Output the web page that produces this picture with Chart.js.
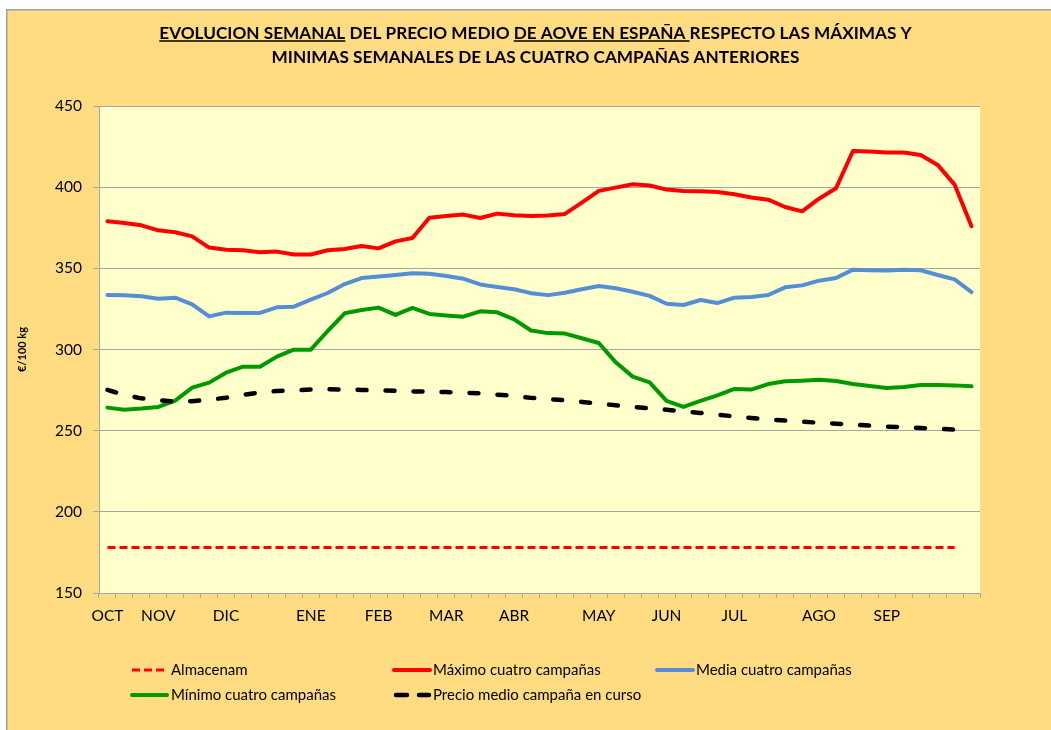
<!DOCTYPE html>
<html>
<head>
<meta charset="utf-8">
<script src="https://cdn.jsdelivr.net/npm/chart.js@4.4.1/dist/chart.umd.min.js"></script>
<style>
  html, body { margin: 0; padding: 0; background: #ffffff; }
  #wrap { width: 1051px; height: 730px; position: relative; }
</style>
</head>
<body>
<div id="wrap"><canvas id="c" width="1051" height="730"></canvas></div>
<script>
// ---------- DATA ----------
const categories = ["OCT","","","NOV","","","","DIC","","","","","ENE","","","","FEB","","","","MAR","","","","ABR","","","","","MAY","","","","JUN","","","","JUL","","","","","AGO","","","","SEP","","","","",""];

const almacenam = [178,178,178,178,178,178,178,178,178,178,178,178,178,178,178,178,178,178,178,178,178,178,178,178,178,178,178,178,178,178,178,178,178,178,178,178,178,178,178,178,178,178,178,178,178,178,178,178,178,178,178,null];

const maximo = [379.0,377.9,376.5,373.4,372.2,369.7,362.8,361.5,361.1,359.9,360.3,358.5,358.5,361.1,361.9,363.8,362.3,366.6,368.7,381.2,382.2,383.1,381.0,383.7,382.7,382.3,382.5,383.5,390.5,397.7,399.7,401.8,401.0,398.5,397.7,397.5,397.0,395.6,393.6,392.3,387.8,385.1,392.9,399.3,422.3,421.9,421.3,421.3,419.8,413.7,401.6,375.9];

const media = [333.6,333.4,332.8,331.3,331.9,327.8,320.4,322.7,322.5,322.5,326.0,326.4,330.7,334.8,340.3,344.0,344.9,345.9,346.9,346.7,345.3,343.6,340.1,338.5,337.1,334.7,333.5,335.0,337.1,339.1,337.7,335.6,333.0,328.2,327.4,330.5,328.6,331.9,332.3,333.6,338.3,339.5,342.4,344.0,349.2,348.8,348.6,349.2,348.8,345.9,343.2,335.4];

const minimo = [264.2,262.9,263.6,264.6,268.5,276.5,279.6,285.7,289.4,289.4,295.6,299.9,299.9,311.4,322.3,324.3,325.8,321.3,325.6,321.9,321.0,320.2,323.5,322.9,318.6,311.7,310.1,309.8,306.9,304.0,292.1,283.3,279.8,268.3,264.6,268.3,271.8,275.7,275.3,278.7,280.4,280.8,281.4,280.6,278.7,277.5,276.3,276.9,278.1,278.1,277.9,277.3];

const precioMedio = [275.1,272.0,269.9,268.7,267.9,268.1,269.1,270.3,272.0,273.6,274.4,274.8,275.3,275.5,275.3,275.1,274.8,274.6,274.2,274.0,273.8,273.4,273.0,272.2,271.4,270.2,269.5,268.7,267.7,266.7,265.6,264.6,263.8,262.9,261.9,260.9,259.9,258.8,257.8,257.0,256.2,255.5,254.9,254.3,253.7,253.1,252.5,252.1,251.6,251.2,250.6,null];

const seriesNames = ["Almacenam","Máximo cuatro campañas","Media cuatro campañas","Mínimo cuatro campañas","Precio medio campaña en curso"];
const titleLine1 = [["EVOLUCION SEMANAL", true], [" DEL PRECIO MEDIO ", false], ["DE AOVE EN ESPAÑA ", true], ["RESPECTO LAS MÁXIMAS Y", false]];
const titleLine2 = "MINIMAS SEMANALES DE LAS CUATRO CAMPAÑAS ANTERIORES";
const yAxisTitle = "€/100 kg";

// ---------- STYLE ----------
const FONT = "Lato, 'Open Sans', sans-serif";
const GOLD = '#FFDC82';
const PLOT_BG = '#FFFFCC';
const GRID = '#A6A6A6';
const RED = '#FF0000', BLUE = '#558ED5', GREEN = '#009A00', BLACK = '#000000';
const DASH_BLACK = [9, 19];
const DASH_RED = [8, 4];

const decorPlugin = {
  id: 'decor',
  beforeDraw(chart) {
    const ctx = chart.ctx, a = chart.chartArea, W = chart.width, H = chart.height;
    ctx.save();
    ctx.fillStyle = '#ffffff';
    ctx.fillRect(0, 0, W, H);
    ctx.fillStyle = GOLD;
    ctx.fillRect(6, 9, W - 6, H - 9);
    ctx.strokeStyle = '#A0A0A0';
    ctx.lineWidth = 1.5;
    ctx.beginPath();
    ctx.moveTo(6.75, H); ctx.lineTo(6.75, 9.75); ctx.lineTo(W, 9.75);
    ctx.stroke();
    ctx.fillStyle = PLOT_BG;
    ctx.fillRect(a.left, a.top, a.right - a.left, a.bottom - a.top);
    ctx.restore();
  },
  afterDraw(chart) {
    const ctx = chart.ctx;
    ctx.save();
    // ----- title -----
    const full1 = titleLine1.map(s => s[0]).join('');
    ctx.font = `bold 100px ${FONT}`;
    const size = 100 * 753 / ctx.measureText(full1).width;
    ctx.font = `bold ${size}px ${FONT}`;
    ctx.fillStyle = '#000';
    ctx.textBaseline = 'alphabetic';
    ctx.textAlign = 'left';
    const cx = 535.5;
    const w1 = ctx.measureText(full1).width;
    let x = cx - w1 / 2;
    const base1 = 38.5, base2 = 62.5;
    ctx.strokeStyle = '#000';
    ctx.lineWidth = 1.3;
    for (const [txt, ul] of titleLine1) {
      const w = ctx.measureText(txt).width;
      ctx.fillText(txt, x, base1);
      if (ul) {
        ctx.beginPath();
        ctx.moveTo(x, base1 + 2.5); ctx.lineTo(x + w, base1 + 2.5);
        ctx.stroke();
      }
      x += w;
    }
    ctx.textAlign = 'center';
    ctx.fillText(titleLine2, cx, base2);

    // ----- legend -----
    const ds = chart.data.datasets;
    const items = [
      { i: 0, x0: 132, x1: 165, tx: 171, y: 670 },
      { i: 1, x0: 394, x1: 430, tx: 433, y: 670 },
      { i: 2, x0: 657, x1: 693, tx: 696, y: 670 },
      { i: 3, x0: 132, x1: 167, tx: 171, y: 695 },
      { i: 4, x0: 396, x1: 429, tx: 433, y: 695 }
    ];
    ctx.font = `15px ${FONT}`;
    ctx.textAlign = 'left';
    ctx.textBaseline = 'middle';
    for (const it of items) {
      const d = ds[it.i];
      ctx.beginPath();
      ctx.strokeStyle = d.borderColor;
      ctx.lineWidth = d.borderWidth;
      ctx.lineCap = d.borderCapStyle || 'butt';
      if (it.i === 4) ctx.setLineDash([11, 12]);
      else ctx.setLineDash(d.borderDash || []);
      ctx.moveTo(it.x0, it.y); ctx.lineTo(it.x1, it.y);
      ctx.stroke();
      ctx.setLineDash([]);
      ctx.fillStyle = '#000';
      ctx.fillText(d.label, it.tx, it.y + 0.5);
    }
    ctx.restore();
  }
};

const chart = new Chart(document.getElementById('c'), {
  type: 'line',
  data: {
    labels: categories,
    datasets: [
      { label: seriesNames[0], data: almacenam, borderColor: RED, borderWidth: 3, borderDash: DASH_RED, borderCapStyle: 'butt', order: 4 },
      { label: seriesNames[1], data: maximo, borderColor: RED, borderWidth: 4, borderCapStyle: 'round', order: 3 },
      { label: seriesNames[2], data: media, borderColor: BLUE, borderWidth: 4, borderCapStyle: 'round', order: 2 },
      { label: seriesNames[3], data: minimo, borderColor: GREEN, borderWidth: 4, borderCapStyle: 'round', order: 1 },
      { label: seriesNames[4], data: precioMedio, borderColor: BLACK, borderWidth: 4.5, borderDash: DASH_BLACK, borderCapStyle: 'round', order: 0 }
    ].map(d => Object.assign({ pointRadius: 0, pointHoverRadius: 0, tension: 0, fill: false, borderJoinStyle: 'round', spanGaps: false }, d))
  },
  options: {
    responsive: false,
    animation: false,
    events: [],
    layout: { padding: { top: 106, left: 0, right: 71, bottom: 0 } },
    plugins: { legend: { display: false }, title: { display: false }, tooltip: { enabled: false } },
    scales: {
      x: {
        type: 'category',
        offset: true,
        afterFit(scale) { scale.height = 137; },
        grid: { offset: true, drawOnChartArea: false, drawTicks: true, tickLength: 5, color: GRID, lineWidth: 1 },
        border: { display: true, color: GRID, width: 1 },
        ticks: { autoSkip: false, maxRotation: 0, minRotation: 0, padding: 9, color: '#000', font: { family: FONT, size: 15.5 } }
      },
      y: {
        min: 150, max: 450,
        afterFit(scale) { scale.width = 99; },
        grid: { color: GRID, lineWidth: 1, drawTicks: true, tickLength: 6 },
        border: { display: true, color: GRID, width: 1 },
        ticks: { stepSize: 50, padding: 11, color: '#000', font: { family: FONT, size: 15.5 } },
        title: { display: true, text: yAxisTitle, color: '#000', font: { family: FONT, size: 11, weight: 'bold' }, padding: { top: 16, bottom: 0 } }
      }
    }
  },
  plugins: [decorPlugin]
});
</script>
</body>
</html>
